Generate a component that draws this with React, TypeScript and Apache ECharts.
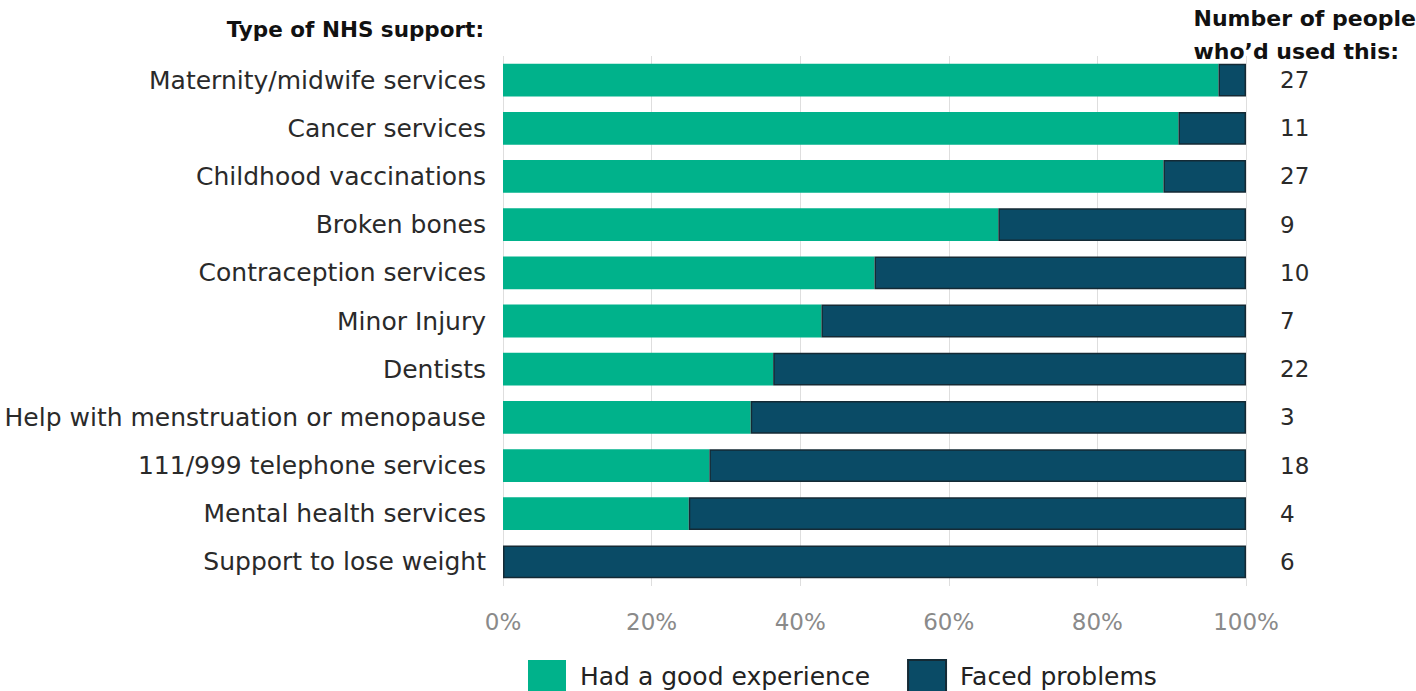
import React, { useEffect, useRef } from "react";
import * as echarts from "echarts";

const categories = [
  "Maternity/midwife services",
  "Cancer services",
  "Childhood vaccinations",
  "Broken bones",
  "Contraception services",
  "Minor Injury",
  "Dentists",
  "Help with menstruation or menopause",
  "111/999 telephone services",
  "Mental health services",
  "Support to lose weight",
];
const peopleCounts = [27, 11, 27, 9, 10, 7, 22, 3, 18, 4, 6];
const goodCounts = [26, 10, 24, 6, 5, 3, 8, 1, 5, 1, 0];
const goodPct = goodCounts.map((g, i) => (g / peopleCounts[i]) * 100);
const problemPct = goodPct.map((g) => 100 - g);

const FONT = "DejaVu Sans";

export default function App() {
  const ref = useRef<HTMLDivElement>(null);
  useEffect(() => {
    const chart = echarts.init(ref.current!, undefined, { renderer: "svg" });
    chart.setOption({
      animation: false,
      textStyle: { fontFamily: FONT },
      grid: { left: 503, right: 170, top: 56, bottom: 105, containLabel: false },
      xAxis: {
        type: "value",
        min: 0,
        max: 100,
        interval: 20,
        axisLine: { show: false },
        axisTick: { show: false },
        splitLine: { show: true, lineStyle: { color: "#dedede", width: 1 } },
        axisLabel: {
          formatter: "{value}%",
          color: "#8a8a8a",
          fontSize: 23,
          margin: 24,
          fontFamily: FONT,
        },
      },
      yAxis: [
        {
          type: "category",
          data: categories,
          inverse: true,
          axisLine: { show: false },
          axisTick: { show: false },
          axisLabel: { color: "#2a2a2a", fontSize: 25, margin: 17, fontFamily: FONT },
        },
        {
          type: "category",
          data: peopleCounts.map(String),
          inverse: true,
          position: "right",
          axisLine: { show: false },
          axisTick: { show: false },
          axisLabel: {
            color: "#2a2a2a",
            fontSize: 23,
            margin: 34,
            align: "left",
            padding: [8, 0, 0, 0],
            fontFamily: FONT,
          },
        },
      ],
      legend: {
        top: 654,
        left: 523,
        itemWidth: 38,
        itemHeight: 33,
        itemGap: 37,
        icon: "rect",
        textStyle: { color: "#222", fontSize: 25, fontFamily: FONT, padding: [0, 0, 0, 9] },
        data: ["Had a good experience", "Faced problems"],
      },
      graphic: [
        {
          type: "text",
          right: 1416 - 484,
          top: 18,
          style: {
            text: "Type of NHS support:",
            fontSize: 21.5,
            fontWeight: "bold",
            fill: "#111",
            fontFamily: FONT,
          },
        },
        {
          type: "text",
          right: 0,
          top: 2,
          style: {
            text: "Number of people\nwho\u2019d used this:",
            fontSize: 22,
            lineHeight: 33,
            fontWeight: "bold",
            fill: "#111",
            fontFamily: FONT,
            textAlign: "left",
          },
        },
      ],
      series: [
        {
          name: "Had a good experience",
          type: "bar",
          stack: "total",
          barWidth: "68%",
          data: goodPct,
          itemStyle: { color: "#00B28B" },
        },
        {
          name: "Faced problems",
          type: "bar",
          stack: "total",
          data: problemPct,
          itemStyle: { color: "#0A4B66", borderColor: "#142a35", borderWidth: 1.5 },
        },
      ],
    });
    return () => chart.dispose();
  }, []);
  return (
    <div
      ref={ref}
      style={{ position: "absolute", left: 0, top: 0, width: 1416, height: 691 }}
    />
  );
}
